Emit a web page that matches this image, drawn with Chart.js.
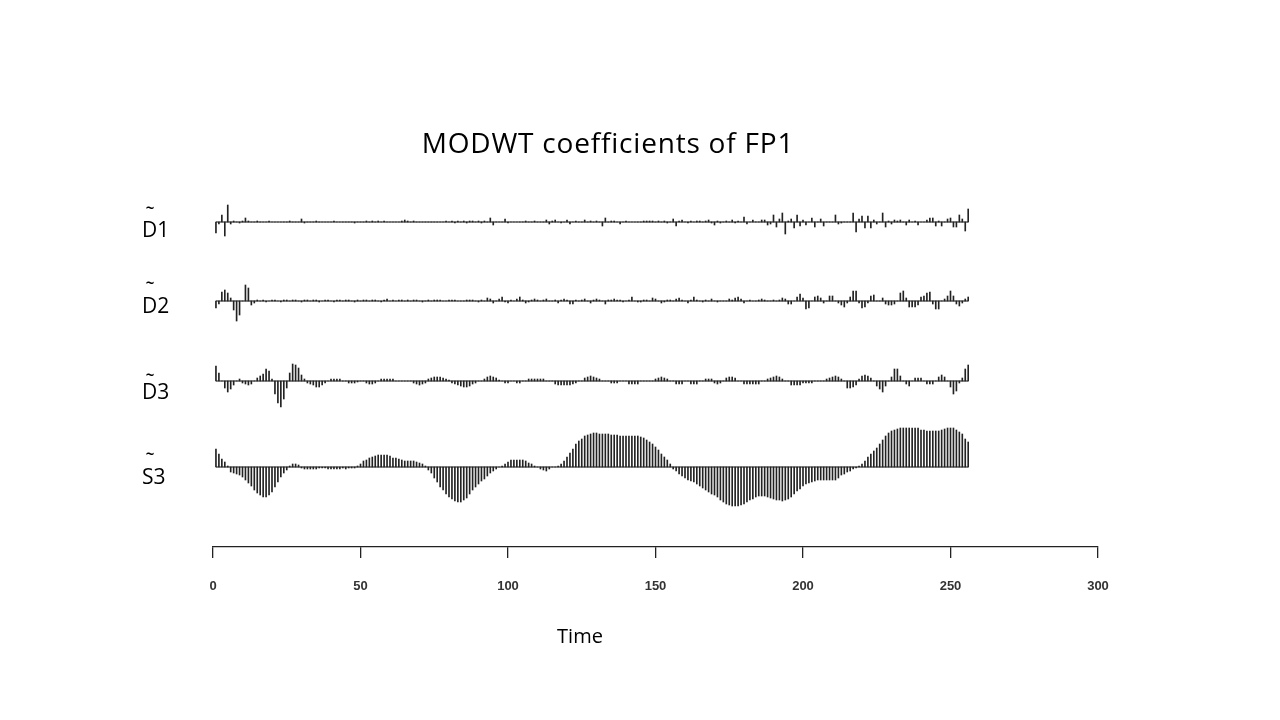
<!DOCTYPE html>
<html><head><meta charset="utf-8">
<script src="https://cdn.jsdelivr.net/npm/chart.js@4.4.1/dist/chart.umd.min.js"></script>
<style>html,body{margin:0;padding:0;background:#fff;}#wrap{width:1280px;height:720px;position:relative;}</style>
</head><body><div id="wrap"><canvas id="c" width="1280" height="720"></canvas></div>
<script>
const chartTitle = 'MODWT coefficients of FP1';
const xTitle = 'Time';
const rowNames = ['D1', 'D2', 'D3', 'S3'];
const xTicks = [0, 50, 100, 150, 200, 250, 300];

const d1 = [
-11,-2,7,-14,17,-2,1,0,-1,1,
4,1,0,0,1,0,0,0,1,0,
0,0,0,0,0,1,0,0,0,3,
-1,0,0,0,1,0,0,0,0,0,
1,0,0,0,0,0,0,-1,0,0,
0,1,0,1,0,1,0,1,0,0,
0,0,0,1,2,1,0,1,0,0,
0,0,0,0,0,0,0,0,1,0,
1,-1,1,0,1,-1,1,1,0,1,
-1,1,0,4,-3,0,0,0,3,-1,
0,0,0,0,0,1,0,0,1,0,
0,0,2,-2,1,2,0,-1,0,2,
-2,0,1,0,0,2,0,1,0,1,
0,-4,4,0,1,1,0,-2,0,1,
0,0,0,0,0,1,1,1,1,0,
1,0,1,-1,0,3,-4,1,2,0,
-1,1,0,1,1,0,1,2,-1,-3,
1,-1,0,1,0,2,-1,1,0,5,
-2,0,2,0,0,2,2,-3,-2,7,
-5,3,9,-12,1,3,-6,7,-4,2,
-3,0,4,-5,0,3,-4,0,0,0,
7,-2,-1,0,0,0,9,-10,3,6,
-6,6,-6,2,-2,0,9,-5,1,-2,
2,1,2,0,-3,2,0,1,-3,0,
0,2,4,4,-4,1,-4,0,3,4,
-5,-5,7,3,-9,13
];
const d2 = [
-7,-3,9,11,8,3,-9,-20,-14,0,
16,13,-4,-2,1,0,1,-1,0,1,
1,0,-1,1,1,0,1,1,0,-1,
1,1,0,1,1,-1,0,1,1,0,
-1,1,1,0,1,1,0,-1,1,0,
1,1,0,1,1,0,-1,1,2,0,
1,0,1,1,0,1,0,1,1,0,
-1,0,1,0,1,1,1,0,0,1,
1,1,0,0,0,1,1,1,0,-1,
1,0,3,2,-2,0,2,4,-1,-2,
1,0,2,4,1,-2,-1,1,2,1,
0,1,2,0,0,1,-2,1,2,1,
-3,-3,1,0,1,2,0,-2,1,2,
1,0,-3,1,1,2,1,1,-1,0,
1,4,0,-1,-1,1,1,0,3,2,
0,-2,-1,1,1,0,2,3,1,0,
-2,1,4,1,0,-1,1,0,2,0,
-1,0,0,0,2,1,3,4,2,-2,
0,1,0,0,1,2,1,0,0,1,
0,1,3,2,-3,-3,0,4,7,3,
-8,-7,0,4,5,3,-2,0,5,5,
0,-2,-4,-6,-2,4,10,10,-2,-7,
-6,-2,5,6,0,0,3,-3,-4,-4,
-3,0,8,10,3,-6,-6,-6,-4,4,
5,8,9,-3,-8,-8,0,2,5,10,
5,-3,-5,-2,2,4
];
const d3 = [
15,8,0,-7,-11,-8,-4,0,2,-2,
-3,-4,-3,0,3,5,7,12,10,2,
-13,-22,-26,-18,-7,8,17,16,13,6,
2,-2,-3,-4,-6,-6,-4,-2,0,2,
2,2,2,0,0,-2,-2,-2,-1,0,
0,-2,-3,-3,-2,0,2,2,2,2,
2,0,0,0,0,0,0,-2,-3,-4,
-3,-2,2,3,4,4,4,3,2,1,
-2,-3,-4,-5,-6,-6,-5,-3,-2,0,
0,2,4,5,4,3,1,0,-2,-2,
0,0,-2,-2,0,0,2,2,2,2,
2,2,0,0,0,-3,-4,-4,-4,-4,
-4,-3,-2,0,0,3,4,5,4,3,
2,0,0,0,-2,-2,-2,0,0,0,
-3,-3,-3,-3,0,0,0,0,0,2,
3,4,3,2,0,0,-3,-3,-3,0,
0,-3,-3,-3,0,0,2,2,2,-2,
-3,-2,0,3,4,4,3,0,0,-3,
-3,-3,-3,-3,-3,0,0,2,3,4,
5,4,2,0,0,-4,-4,-4,-4,-2,
-2,-2,-2,0,0,0,0,2,3,4,
5,4,2,0,-7,-7,-6,-4,2,5,
6,5,3,0,-5,-8,-11,-5,0,4,
12,12,5,0,-3,-5,0,3,3,3,
0,-3,-3,-3,0,4,6,4,0,-6,
-13,-10,-2,3,12,16
];
const s3 = [
18,13,8,5,1,-5,-6,-7,-8,-10,
-13,-16,-19,-23,-26,-28,-30,-30,-28,-25,
-20,-15,-10,-6,-3,1,3,3,2,-1,
-2,-2,-2,-2,-2,-1,-1,-1,-2,-2,
-2,-2,-2,-1,-2,-1,-1,-1,1,3,
6,7,9,10,11,12,12,12,12,11,
9,9,8,7,6,6,6,6,5,4,
3,1,-3,-6,-11,-15,-20,-23,-27,-30,
-32,-34,-35,-35,-33,-31,-27,-23,-20,-17,
-14,-12,-9,-6,-4,-2,0,1,3,5,
7,7,7,7,7,6,4,3,1,0,
-2,-3,-4,-2,0,0,1,3,6,10,
14,18,23,26,28,31,32,33,34,34,
33,33,33,33,32,32,32,31,31,31,
31,31,31,31,30,29,27,25,23,20,
17,13,10,7,3,-2,-4,-7,-9,-11,
-13,-14,-15,-17,-19,-21,-23,-25,-27,-28,
-30,-33,-35,-37,-38,-39,-39,-39,-38,-37,
-35,-33,-32,-30,-29,-29,-29,-30,-31,-32,
-33,-33,-34,-33,-32,-30,-27,-24,-22,-19,
-17,-16,-15,-14,-13,-13,-13,-13,-13,-13,
-13,-11,-8,-7,-5,-4,-2,-1,1,3,
6,10,13,16,19,23,27,31,34,36,
37,38,39,39,39,39,39,39,39,37,
37,36,36,36,36,36,37,38,39,39,
39,37,35,33,28,25
];
const series = [d1, d2, d3, s3];
const times = d1.map((_, i) => i + 1);

// layout (pixels)
const area = { left: 213, right: 1098, top: 190, bottom: 547 };
const rowBase = [222, 301, 381, 467];
const labelBase = [237, 313, 399, 484];
const tildeCenter = [207.5, 283, 375, 453.5];

const tickLen = 11, tickPad = 21, tickFont = 13;
const xAxisH = tickLen + 2 * tickPad + tickFont * 1.2;

const datasets = [];
const scales = {
  x: {
    type: 'linear', min: 0, max: 300, offset: false,
    afterBuildTicks: (ax) => { ax.ticks = xTicks.map(v => ({ value: v })); },
    ticks: { font: { family: '"Liberation Sans", Arial, sans-serif', size: tickFont, weight: 'bold' },
             color: '#333', padding: tickPad, maxRotation: 0, autoSkip: false },
    grid: { display: true, drawOnChartArea: false, drawTicks: true, tickLength: tickLen,
            color: '#222', lineWidth: 1.3, offset: false },
    border: { display: true, color: '#222', width: 1.3 }
  }
};
series.forEach((vals, i) => {
  const id = 'y' + (i + 1);
  scales[id] = { type: 'linear', display: false,
                 min: rowBase[i] - area.bottom, max: rowBase[i] - area.top };
  datasets.push({
    type: 'bar', label: rowNames[i], yAxisID: id, grouped: false,
    data: times.map((t, k) => ({ x: t, y: vals[k] })),
    barThickness: 1, backgroundColor: '#222', borderWidth: 0
  });
  datasets.push({
    type: 'line', label: rowNames[i] + ' base', yAxisID: id,
    data: [{ x: times[0], y: 0 }, { x: times[times.length - 1], y: 0 }],
    borderColor: '#111', borderWidth: 1.2, pointRadius: 0, fill: false
  });
});

const textPlugin = {
  id: 'texts',
  afterDraw(chart) {
    const ctx = chart.ctx;
    ctx.save();
    ctx.fillStyle = '#000';
    ctx.textBaseline = 'alphabetic';
    ctx.textAlign = 'center';
    ctx.font = '28px "Open Sans"';
    if ('letterSpacing' in ctx) ctx.letterSpacing = '0.8px';
    ctx.fillText(chartTitle, 608, 153);
    if ('letterSpacing' in ctx) ctx.letterSpacing = '0px';
    ctx.font = '20px "Open Sans"';
    ctx.fillText(xTitle, 580, 643);
    rowNames.forEach((n, i) => {
      ctx.textAlign = 'left';
      ctx.font = '21px "Open Sans"';
      ctx.fillText(n, 142, labelBase[i]);
      ctx.textAlign = 'center';
      ctx.font = 'bold 15px "Open Sans"';
      ctx.fillText('~', 150, tildeCenter[i] + 5);
    });
    ctx.restore();
  }
};

new Chart(document.getElementById('c'), {
  type: 'bar',
  data: { datasets },
  options: {
    responsive: false, animation: false,
    layout: { padding: { left: area.left, right: 1280 - area.right, top: area.top,
                         bottom: 720 - area.bottom - xAxisH } },
    plugins: { legend: { display: false }, tooltip: { enabled: false }, title: { display: false } },
    scales
  },
  plugins: [textPlugin]
});
</script></body></html>
